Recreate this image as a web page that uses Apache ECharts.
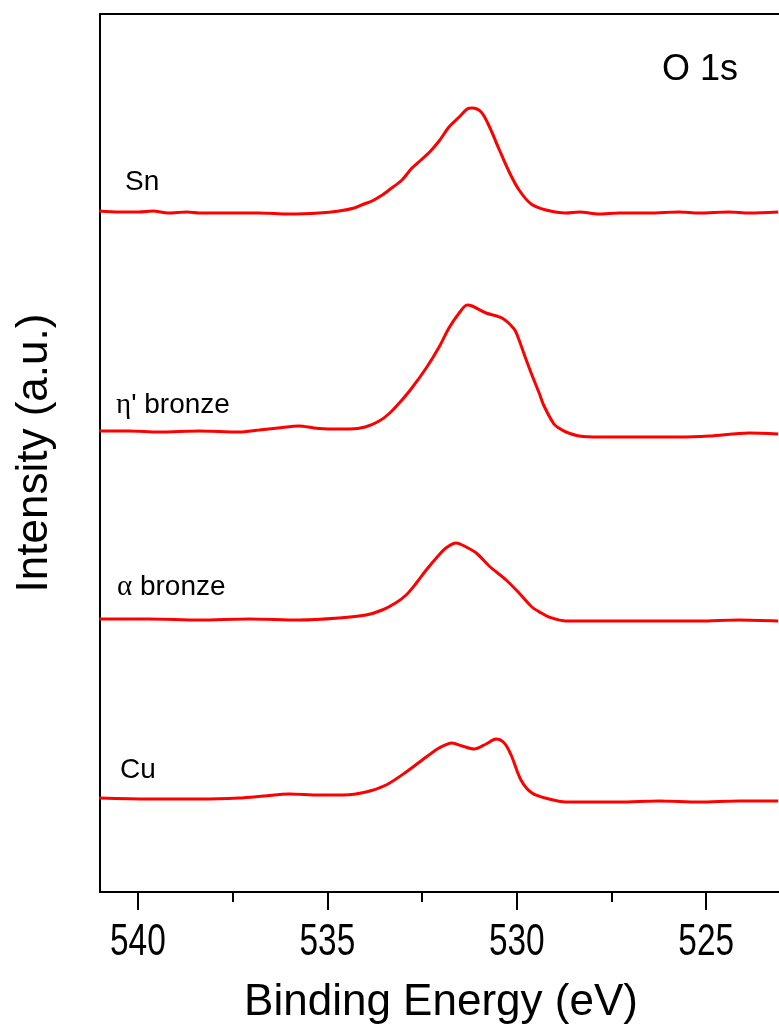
<!DOCTYPE html>
<html>
<head>
<meta charset="utf-8">
<script src="https://cdn.jsdelivr.net/npm/echarts@6/dist/echarts.min.js"></script>
<style>
  html, body { margin: 0; padding: 0; background: #fff; }
  #chart { width: 779px; height: 1032px; }
</style>
</head>
<body>
<div id="chart"></div>
<script>
// O 1s XPS spectra, vertically offset; [binding energy (eV), intensity (a.u.)]
const sn = [
  [541.02, 681], [540.49, 680], [539.97, 680], [539.60, 681], [539.20, 679],
  [538.70, 680], [538.38, 679], [537.59, 679], [536.80, 679], [536.01, 678],
  [535.22, 679], [534.69, 681], [534.29, 684], [534.03, 688], [533.82, 691],
  [533.55, 697], [533.37, 702], [533.03, 712], [532.79, 723], [532.53, 732],
  [532.30, 740], [532.05, 751], [531.79, 765], [531.52, 775], [531.31, 783],
  [531.18, 784], [530.94, 780], [530.73, 766], [530.47, 743], [530.20, 720],
  [529.94, 702], [529.62, 688], [529.23, 682], [528.70, 679], [528.35, 680],
  [527.83, 678], [527.30, 679], [526.51, 679], [525.72, 680], [525.19, 679],
  [524.40, 680], [523.87, 679], [523.10, 680]
];
const etaBronze = [
  [541.02, 461], [540.23, 461], [539.44, 460], [538.38, 461], [537.33, 460],
  [536.80, 462], [536.30, 464], [535.74, 466], [535.35, 464], [534.90, 463],
  [534.40, 463], [534.00, 465], [533.63, 471], [533.35, 479], [533.10, 489],
  [532.79, 503], [532.39, 524], [532.05, 545], [531.79, 564], [531.52, 579],
  [531.31, 587], [531.18, 586], [530.81, 579], [530.39, 574], [530.07, 563],
  [529.96, 554], [529.75, 532], [529.60, 517], [529.41, 499], [529.28, 486],
  [529.02, 468], [528.89, 464], [528.70, 460], [528.35, 456], [527.83, 455],
  [526.77, 455], [525.72, 455], [524.92, 456], [523.87, 459], [523.10, 458]
];
const alphaBronze = [
  [541.02, 273], [539.70, 273], [538.38, 272], [537.06, 273], [535.74, 272],
  [534.69, 274], [533.98, 277], [533.55, 282], [533.20, 289], [532.92, 297],
  [532.65, 309], [532.39, 322], [532.10, 335], [531.87, 344], [531.60, 349],
  [531.44, 347], [531.07, 339], [530.73, 326], [530.28, 312], [529.94, 299],
  [529.60, 285], [529.35, 279], [529.15, 275], [528.70, 271], [528.35, 271],
  [527.30, 271], [526.24, 271], [525.19, 271], [524.13, 272], [523.10, 271]
];
const cu = [
  [541.02, 94], [539.70, 93], [538.38, 93], [537.33, 94], [536.67, 96],
  [536.01, 98], [535.22, 97], [534.56, 97], [533.98, 100], [533.45, 107],
  [532.92, 120], [532.39, 135], [532.05, 144], [531.71, 149], [531.44, 146],
  [531.13, 143], [530.81, 148], [530.55, 153], [530.33, 149], [530.15, 137],
  [529.89, 112], [529.60, 99], [529.15, 93], [528.70, 90], [528.35, 90],
  [527.30, 90], [526.24, 91], [525.19, 90], [524.13, 91], [523.10, 91]
];

const majorTicks = [540, 535, 530, 525];
const minorTicks = [537.5, 532.5, 527.5];
const spectrumNames = ['Sn', "η' bronze", 'α bronze', 'Cu'];

const FONT = '"Liberation Sans", Arial, sans-serif';
const chart = echarts.init(document.getElementById('chart'), null, { renderer: 'canvas' });

function spectrum(name, data) {
  return {
    name, type: 'line', data, smooth: 0.3,
    showSymbol: false, symbol: 'none',
    lineStyle: { color: '#ff0000', width: 3 }, xAxisIndex: 0, yAxisIndex: 0
  };
}

function seriesLabel(left, top, text) {
  return { type: 'text', left, top, style: { text, font: '28px ' + FONT, fill: '#000' } };
}

function greekLabel(left, top, greek, rest) {
  return {
    type: 'text', left, top,
    style: {
      text: '{g|' + greek + '}{t|' + rest + '}',
      rich: {
        g: { font: '29px "Liberation Serif", serif', fill: '#000' },
        t: { font: '28px ' + FONT, fill: '#000' }
      }
    }
  };
}

chart.setOption({
  animation: false,
  backgroundColor: '#ffffff',
  grid: {
    left: 100, top: 14, width: 682, height: 878,
    outerBoundsMode: 'none', containLabel: false,
    show: true, borderColor: '#000', borderWidth: 2, backgroundColor: 'transparent'
  },
  xAxis: [
    {
      type: 'value', min: 523, max: 541, inverse: true, position: 'bottom',
      name: 'Binding Energy (eV)', nameLocation: 'middle', nameGap: 89,
      nameTextStyle: { fontFamily: FONT, fontSize: 44, color: '#000' },
      axisLine: { show: true, lineStyle: { color: '#000', width: 2 } },
      axisTick: { show: true, customValues: majorTicks, length: 18, lineStyle: { color: '#000', width: 2 } },
      axisLabel: { show: false },
      splitLine: { show: false }
    },
    {
      type: 'value', min: 523, max: 541, inverse: true, position: 'bottom',
      axisLine: { show: false },
      axisTick: { show: true, customValues: minorTicks, length: 10, lineStyle: { color: '#000', width: 2 } },
      axisLabel: { show: false },
      splitLine: { show: false }
    }
  ],
  yAxis: {
    type: 'value', min: 0, max: 878,
    name: 'Intensity (a.u.)', nameLocation: 'middle', nameGap: 43, nameRotate: 90,
    nameTextStyle: { fontFamily: FONT, fontSize: 44, color: '#000' },
    axisLine: { show: true, lineStyle: { color: '#000', width: 2 } },
    axisTick: { show: false }, axisLabel: { show: false }, splitLine: { show: false }
  },
  series: [
    spectrum(spectrumNames[0], sn),
    spectrum(spectrumNames[1], etaBronze),
    spectrum(spectrumNames[2], alphaBronze),
    spectrum(spectrumNames[3], cu)
  ],
  graphic: [
    { type: 'text', left: 662, top: 52, style: { text: 'O 1s', font: '36px ' + FONT, fill: '#000' } },
    seriesLabel(125, 168, spectrumNames[0]),
    greekLabel(116, 391, 'η', "' bronze"),
    greekLabel(117, 573, 'α', ' bronze'),
    seriesLabel(120, 756, spectrumNames[3])
  ]
});

// Condensed tick labels, placed at the axis's own pixel positions for each major tick
const axisY = chart.convertToPixel({ yAxisIndex: 0 }, 0);
const tickLabels = majorTicks.map(function (v, i) {
  return {
    type: 'text', id: 'tick' + i,
    x: chart.convertToPixel({ xAxisIndex: 0 }, v),
    y: axisY + 29,
    scaleX: 0.76,
    style: {
      text: String(v), font: '44px ' + FONT, fill: '#000',
      align: 'center', verticalAlign: 'top'
    }
  };
});
chart.setOption({ graphic: tickLabels });
</script>
</body>
</html>
